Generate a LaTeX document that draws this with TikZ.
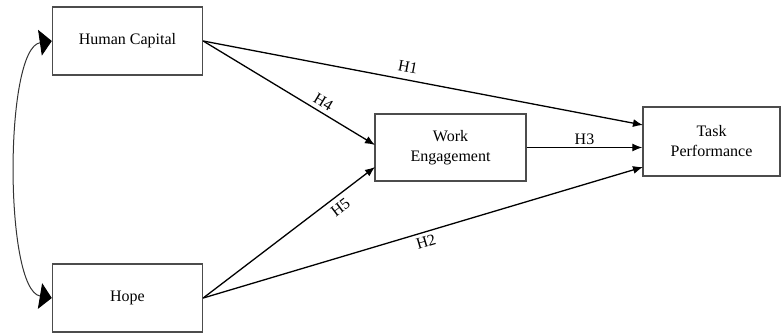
\documentclass[tikz,border=0pt]{standalone}
\usepackage{fontspec}
\setmainfont{Liberation Serif}
\usetikzlibrary{arrows.meta}
\begin{document}
\begin{tikzpicture}[x=1pt,y=-1pt,
  box/.style={draw=black!70, line width=1.4pt, fill=white, inner sep=0pt, align=center, font=\fontsize{16}{20}\selectfont},
  path/.style={draw=black, line width=1.3pt, -{Latex[length=10pt,width=8pt]}},
  hlab/.style={font=\fontsize{16}{18}\selectfont, sloped, inner sep=4pt}]
\useasboundingbox (0,0) rectangle (781,333);
\node[box, minimum width=150pt, minimum height=68pt] (hc) at (127.5,41) {Human Capital};
\node[box, minimum width=150pt, minimum height=68pt] (hope) at (127.5,298) {Hope};
\node[box, minimum width=151pt, minimum height=67pt] (we) at (450.5,147.5) {Work\\Engagement};
\node[box, minimum width=137pt, minimum height=69pt] (tp) at (711.5,141.5) {Task\\Performance};
\coordinate (tpa) at (643,125);
\coordinate (tpc) at (643,167);
\coordinate (wea) at (375,145);
\coordinate (wec) at (375,167);
\draw[path] (hc.east) -- node[hlab, above, pos=0.46, yshift=3pt] {H1} (tpa);
\draw[path] (hc.east) -- node[hlab, above, pos=0.67] {H4} (wea);
\draw[path] (we.east) -- node[hlab, above, inner sep=2pt] {H3} (tp.west |- we.east);
\draw[path] (hope.east) -- node[hlab, below, pos=0.76, yshift=-1pt] {H5} (wec);
\draw[path] (hope.east) -- node[hlab, below, pos=0.5] {H2} (tpc);
\draw[line width=1pt, black!80, {Triangle[length=12pt,width=26pt,color=black]}-{Triangle[length=12pt,width=26pt,color=black]}]
  (hc.west) .. controls (4,48) and (4,290) .. (hope.west);
\end{tikzpicture}
\end{document}
